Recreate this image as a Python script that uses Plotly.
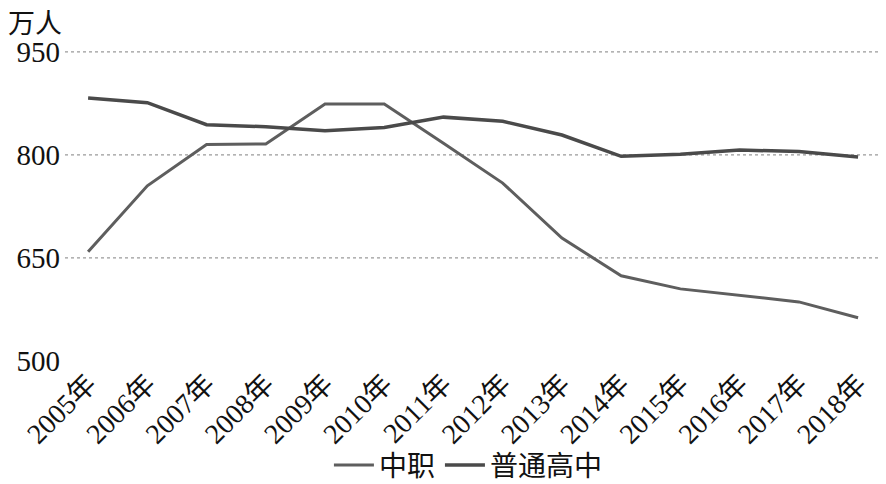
import plotly.graph_objects as go

years = ["2005年", "2006年", "2007年", "2008年", "2009年", "2010年", "2011年",
         "2012年", "2013年", "2014年", "2015年", "2016年", "2017年", "2018年"]
zhongzhi = [659, 755, 815, 816, 874, 874, 817, 759, 679, 624, 605, 596, 586, 563]
putong = [883, 876, 844, 841, 835, 840, 855, 849, 829, 798, 801, 807, 805, 797]
y_ticks = [500, 650, 800, 950]
grid_vals = [650, 800, 950]

FONT = "Liberation Serif, Noto Sans CJK SC, serif"
TXT = "#111111"

fig = go.Figure()
fig.add_trace(go.Scatter(x=years, y=zhongzhi, mode="lines", name="中职",
                         line=dict(color="#5e5e5e", width=3)))
fig.add_trace(go.Scatter(x=years, y=putong, mode="lines", name="普通高中",
                         line=dict(color="#4a4a4a", width=3.5)))

for v in grid_vals:
    fig.add_hline(y=v, line=dict(color="#9a9a9a", width=1.2, dash="dot"), layer="below")

fig.update_layout(
    width=886, height=484,
    margin=dict(l=65, r=6, t=45, b=123, autoexpand=False),
    paper_bgcolor="white", plot_bgcolor="white",
    font=dict(family=FONT, color=TXT),
    showlegend=True,
    legend=dict(orientation="h", x=0.495, xanchor="center", y=-0.33, yanchor="middle",
                font=dict(size=28, family=FONT, color=TXT), itemwidth=40, tracegroupgap=0,
                bgcolor="rgba(0,0,0,0)"),
    xaxis=dict(range=[-0.39, 13.37], showgrid=False, showline=False, zeroline=False,
               tickangle=-45, tickfont=dict(size=28, family=FONT, color=TXT), ticks="",
               automargin=False),
    yaxis=dict(range=[500, 960], tickvals=y_ticks, showgrid=False, showline=False,
               zeroline=False, tickfont=dict(size=29, family=FONT, color=TXT), ticks="",
               ticklabelstandoff=4, automargin=False),
    annotations=[dict(text="万人", xref="paper", yref="paper", x=-0.072, y=1.065,
                      xanchor="left", yanchor="middle", showarrow=False,
                      font=dict(size=27, family=FONT, color=TXT))],
)

fig.write_html("out.html")
